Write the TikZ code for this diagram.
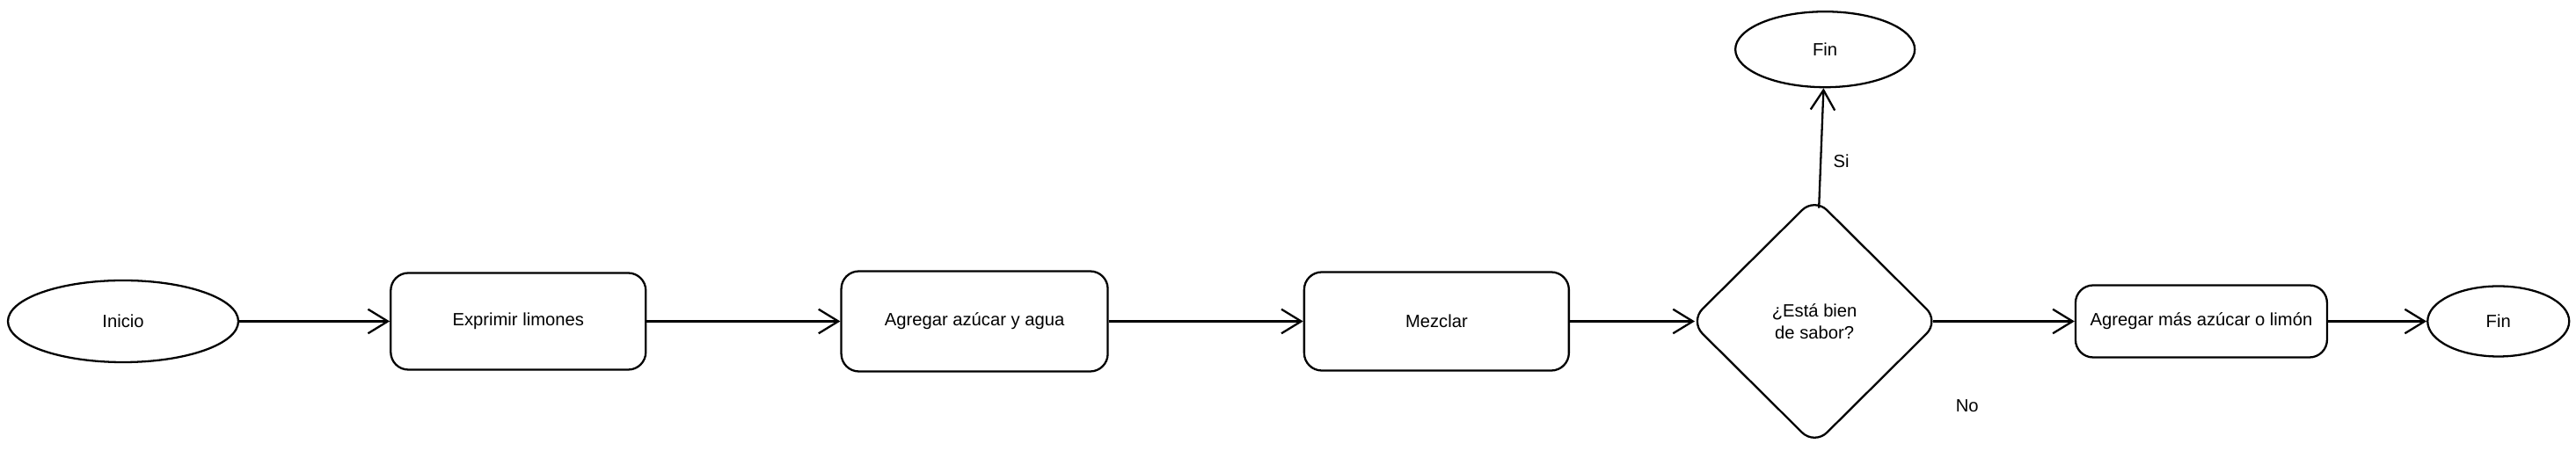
\documentclass[tikz,border=0pt]{standalone}
\usepackage{fontspec}
\setmainfont{Liberation Sans}
\usetikzlibrary{arrows.meta,positioning,shapes.geometric}

\begin{document}
\begin{tikzpicture}[node distance=3cm, >={Straight Barb[length=4.5mm,width=5.5mm]}, line width=1.3pt, font=\fontsize{11.5}{14}\selectfont]
    \tikzstyle{term}=[draw, ellipse, inner sep=0pt, align=center]
    \tikzstyle{proc}=[draw, rounded corners=0.4cm, minimum height=2.2cm, inner sep=0pt, align=center]
    \tikzstyle{dec}=[draw, diamond, rounded corners=0.4cm, minimum width=5.68cm, minimum height=5.64cm, inner sep=0pt, align=center]
    \useasboundingbox (0,0) rectangle (58.58,10.26);

    \node[term, minimum width=5.24cm, minimum height=1.86cm] (inicio) at (2.80,2.95) {Inicio};
    \node[proc, minimum width=5.80cm, right=3.42cm of inicio] (exprimir) {Exprimir limones};
    \node[proc, minimum width=6.06cm, minimum height=2.28cm, right=4.40cm of exprimir] (agua) {Agregar azúcar y agua};
    \node[proc, minimum width=6.02cm, minimum height=2.24cm, right=4.42cm of agua] (mezclar) {Mezclar};
    \node[dec, right=2.70cm of mezclar] (sabor) {¿Está bien\\de sabor?};
    \node[term, minimum width=4.08cm, minimum height=1.72cm, above=2.46cm of sabor, xshift=0.24cm] (fin1) {Fin};
    \node[proc, minimum width=5.72cm, minimum height=1.64cm, right=3.05cm of sabor] (mas) {Agregar más azúcar o limón};
    \node[term, minimum width=3.22cm, minimum height=1.60cm, right=2.24cm of mas] (fin2) {Fin};

    \draw[->] (inicio) -- (exprimir);
    \draw[->] (exprimir) -- (agua);
    \draw[->] (agua) -- (mezclar);
    \draw[->, shorten >=-0.14cm] (mezclar) -- (sabor);
    \draw[->, shorten <=-0.16cm] (sabor) -- node[pos=0.35, right=0.15cm] (si) {Si} (fin1);
    \draw[->, shorten <=-0.16cm] (sabor) -- node[pos=0.2, below=1.65cm] (no) {No} (mas);
    \draw[->] (mas) -- (fin2);
\end{tikzpicture}
\end{document}
